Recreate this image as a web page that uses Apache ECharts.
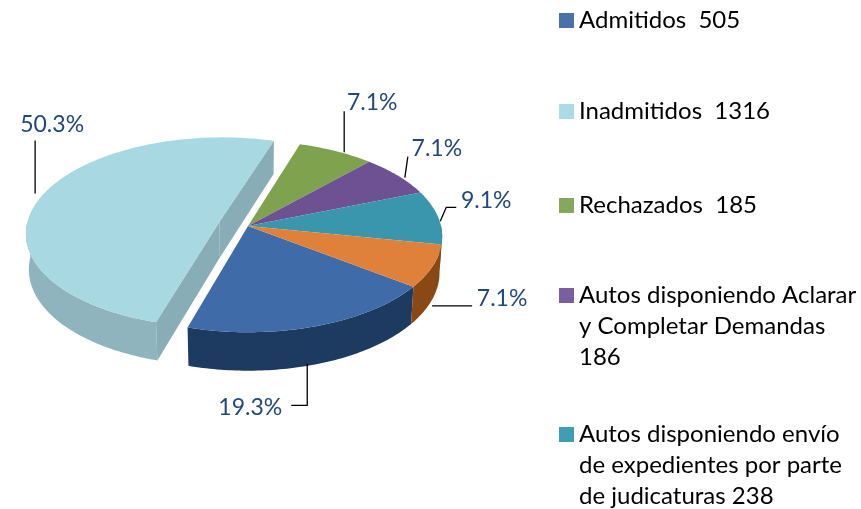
<!DOCTYPE html>
<html><head><meta charset="utf-8">
<script src="https://cdn.jsdelivr.net/npm/echarts@6/dist/echarts.min.js"></script>
<style>html,body{margin:0;padding:0;background:#fff}#c{width:861px;height:509px}</style>
</head><body><div id="c"></div>
<script>
// ---- data ----
const categories = ['Admitidos', 'Inadmitidos', 'Rechazados',
  'Autos disponiendo Aclarar y Completar Demandas',
  'Autos disponiendo envío de expedientes por parte de judicaturas', 'Otros'];
const values = [505, 1316, 185, 186, 238, 187];
const legendLabels = ['Admitidos  505', 'Inadmitidos  1316', 'Rechazados  185',
  'Autos disponiendo Aclarar\ny Completar Demandas\n186',
  'Autos disponiendo envío\nde expedientes por parte\nde judicaturas 238'];
const explodedIndex = 1;

// ---- styles ----
const topColors  = ['#3f6ca8', '#a8d8e2', '#7fa24f', '#6d5193', '#3a96ad', '#e0813b'];
const sideColors = ['#1d3b61', '#90b4bd', '#4d6a2c', '#433060', '#236479', '#8a4914'];
const wallColors = ['#1d3b61', '#89adb6', '#4d6a2c', '#433060', '#236479', '#8a4914'];
const legendColors = ['#4a72a8', '#abdce6', '#86a85a', '#7a5e9e', '#3f9db5', '#e58a3a'];
const labelColor = '#1f497d';
const FONT = 'Lato, "Open Sans", sans-serif';
// leader polylines and label centres, relative to each slice's anchor point (shifted by 'shift')
const labelLayout = [
  {shift: [-8, -1], line: [[0,0],[0,42],[-16,42]], text: [-57,44]},
  {shift: [-7, -2], line: [[0,0],[0,-53]], text: [17,-69]},
  {shift: [8, 1], line: [[0,0],[0,-41]], text: [28,-50]},
  {shift: [7, 2], line: [[0,0],[3,-21]], text: [32,-29]},
  {shift: [2, 4], line: [[0,0],[6,-14],[16,-14]], text: [46,-21]},
  {shift: [2, 3], line: [[0,0],[40,0]], text: [70,-7]}
];
const legendTops = [5, 96, 190, 218, 357];

// ---- 3D projection geometry ----
const G = {cx: 248, cy: 226, s: 193, sinP: 0.49, cosP: 0.872, D: 7.94, t: 0.215, explode: 0.155, start: 126.8};
const total = values.reduce((a, b) => a + b, 0);
const starts = [];
{ let acc = 0; values.forEach(v => { starts.push(G.start + 360 * acc / total); acc += v; }); }
const rad = d => d * Math.PI / 180;
function proj(u, v, h) {
  const yy = v * G.sinP - h * G.cosP;
  const z = G.D - v * G.cosP - h * G.sinP;
  const k = G.D / z;
  return [G.cx + G.s * u * k, G.cy + G.s * yy * k];
}
function rim(a, h, off) { return proj(off[0] + Math.sin(rad(a)), off[1] - Math.cos(rad(a)), h); }
function arcPts(a1, a2, h, off) {
  const n = Math.max(2, Math.ceil(Math.abs(a2 - a1)));
  const pts = [];
  for (let j = 0; j <= n; j++) pts.push(rim(a1 + (a2 - a1) * j / n, h, off));
  return pts;
}

function renderSlice(i) {
  const a1 = starts[i], a2 = a1 + 360 * values[i] / total, mid = (a1 + a2) / 2;
  const ex = i === explodedIndex;
  const off = ex ? [G.explode * Math.sin(rad(mid)), -G.explode * Math.cos(rad(mid))] : [0, 0];
  const t = G.t;
  const children = [];
  // outer side (front half)
  for (let k = -1; k <= 2; k++) {
    const lo = Math.max(a1, 90 + 360 * k), hi = Math.min(a2, 270 + 360 * k);
    if (hi > lo) {
      const pts = arcPts(lo, hi, 0, off).concat(arcPts(hi, lo, -t, off));
      children.push({type: 'polygon', z2: 1, shape: {points: pts}, style: {fill: sideColors[i]}});
    }
  }
  // radial walls exposed by the exploded slice
  const n = values.length;
  const prevEx = ((i - 1 + n) % n) === explodedIndex, nextEx = ((i + 1) % n) === explodedIndex;
  const c0 = proj(off[0], off[1], 0), c1 = proj(off[0], off[1], -t);
  if ((ex || prevEx) && Math.sin(rad(a1)) < 0) {
    children.push({type: 'polygon', z2: 2, shape: {points: [c0, rim(a1, 0, off), rim(a1, -t, off), c1]}, style: {fill: wallColors[i]}});
  }
  if ((ex || nextEx) && Math.sin(rad(a2)) > 0) {
    children.push({type: 'polygon', z2: 2, shape: {points: [c0, rim(a2, 0, off), rim(a2, -t, off), c1]}, style: {fill: wallColors[i]}});
  }
  // top face
  children.push({type: 'polygon', z2: 3, shape: {points: [c0].concat(arcPts(a1, a2, 0, off))}, style: {fill: topColors[i]}});
  // label + leader
  const front = -Math.cos(rad(mid)) > 0;
  const r = rim(mid, front ? -t : 0, off);
  const L = labelLayout[i];
  const anc = [r[0] + L.shift[0], r[1] + L.shift[1]];
  children.push({type: 'polyline', z2: 10, shape: {points: L.line.map(p => [anc[0] + p[0], anc[1] + p[1]])},
    style: {stroke: '#000', lineWidth: 1.3, fill: null}});
  children.push({type: 'text', z2: 11, style: {text: (values[i] / total * 100).toFixed(1) + '%',
    x: anc[0] + L.text[0], y: anc[1] + L.text[1], fill: labelColor, fontSize: 23, fontFamily: FONT,
    align: 'center', verticalAlign: 'middle'}});
  return {type: 'group', children};
}

const series = categories.map((name, i) => ({
  type: 'custom', name, coordinateSystem: 'none', data: [[values[i]]],
  itemStyle: {color: legendColors[i]},
  renderItem: () => renderSlice(i)
}));

// multi-line entries: two leading blank lines so the icon sits beside the first text line
const legend = legendLabels.map((lab, i) => {
  const multi = lab.indexOf('\n') >= 0;
  return {
    data: [categories[i]], formatter: () => (multi ? '\n\n' + lab : lab),
    left: 559, top: legendTops[i], orient: 'vertical', padding: 0,
    icon: 'rect', itemWidth: 15, itemHeight: 15,
    textStyle: {fontSize: 24, fontFamily: FONT, color: '#000', lineHeight: 31}
  };
});

const chart = echarts.init(document.getElementById('c'), null, {renderer: 'canvas'});
chart.setOption({animation: false, backgroundColor: '#fff', legend, series});
</script></body></html>
